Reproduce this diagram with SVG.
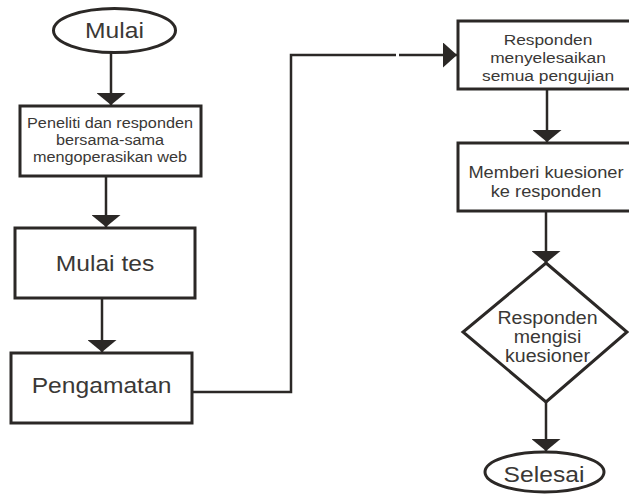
<svg xmlns="http://www.w3.org/2000/svg" width="629" height="494" viewBox="0 0 629 494">
<defs>
<style>
.shape{fill:#fff;stroke:#2b2826;stroke-width:3}
.line{fill:none;stroke:#2b2826;stroke-width:2.5}
text{font-family:"Liberation Sans",Arial,sans-serif;fill:#3a3836;text-anchor:middle}
</style>
<marker id="ah" markerUnits="userSpaceOnUse" markerWidth="13" markerHeight="29" refX="12" refY="14.5" orient="auto" viewBox="0 0 13 29">
<path d="M0,0 L12,14.5 L0,29 Z" fill="#2b2826"/>
</marker>
<marker id="ah2" markerUnits="userSpaceOnUse" markerWidth="15" markerHeight="25" refX="14" refY="12.5" orient="auto" viewBox="0 0 15 25">
<path d="M0,0 L14,12.5 L0,25 Z" fill="#2b2826"/>
</marker>
</defs>
<rect width="629" height="494" fill="#fff"/>
<g id="connectors">
<path class="line" d="M111,53 V105" marker-end="url(#ah)"/>
<path class="line" d="M106,176 V227" marker-end="url(#ah)"/>
<path class="line" d="M102,298 V352" marker-end="url(#ah)"/>
<path class="line" d="M192,392 H291 V55 H396"/>
<path class="line" d="M399,55 H457" marker-end="url(#ah2)"/>
<path class="line" d="M547,89 V142" marker-end="url(#ah)"/>
<path class="line" d="M546,211 V263" marker-end="url(#ah)"/>
<path class="line" d="M546,402 V451" marker-end="url(#ah)"/>
</g>
<g id="mulai">
<ellipse class="shape" cx="114.5" cy="30.5" rx="61" ry="22"/>
<text transform="translate(114.5 38) scale(1.12 1)" font-size="22">Mulai</text>
</g>
<g id="peneliti">
<rect class="shape" x="20" y="106" width="181" height="70"/>
<text transform="translate(110 128) scale(1.12 1)" font-size="14.5">Peneliti dan responden</text>
<text transform="translate(110 145) scale(1.12 1)" font-size="14.5">bersama-sama</text>
<text transform="translate(110 162) scale(1.12 1)" font-size="14.5">mengoperasikan web</text>
</g>
<g id="mulai-tes">
<rect class="shape" x="15" y="228" width="180" height="70"/>
<text transform="translate(105 271) scale(1.12 1)" font-size="22">Mulai tes</text>
</g>
<g id="pengamatan">
<rect class="shape" x="11" y="353" width="181" height="70"/>
<text transform="translate(101.5 393) scale(1.12 1)" font-size="22">Pengamatan</text>
</g>
<g id="menyelesaikan">
<rect class="shape" x="458" y="21" width="190" height="68"/>
<text transform="translate(548 45) scale(1.12 1)" font-size="15.5">Responden</text>
<text transform="translate(548 63) scale(1.12 1)" font-size="15.5">menyelesaikan</text>
<text transform="translate(548 81) scale(1.12 1)" font-size="15.5">semua pengujian</text>
</g>
<g id="memberi">
<rect class="shape" x="458" y="143" width="190" height="68"/>
<text transform="translate(546 178) scale(1.12 1)" font-size="16.3">Memberi kuesioner</text>
<text transform="translate(546 197) scale(1.12 1)" font-size="16.3">ke responden</text>
</g>
<g id="mengisi">
<polygon class="shape" points="546,263 627,332 546,402 463,332"/>
<text transform="translate(547.5 324) scale(1.12 1)" font-size="17.5">Responden</text>
<text transform="translate(547.5 343) scale(1.12 1)" font-size="17.5">mengisi</text>
<text transform="translate(547.5 362) scale(1.12 1)" font-size="17.5">kuesioner</text>
</g>
<g id="selesai">
<ellipse class="shape" cx="544.5" cy="472" rx="59.5" ry="20"/>
<text transform="translate(544 482) scale(1.12 1)" font-size="22">Selesai</text>
</g>
</svg>
